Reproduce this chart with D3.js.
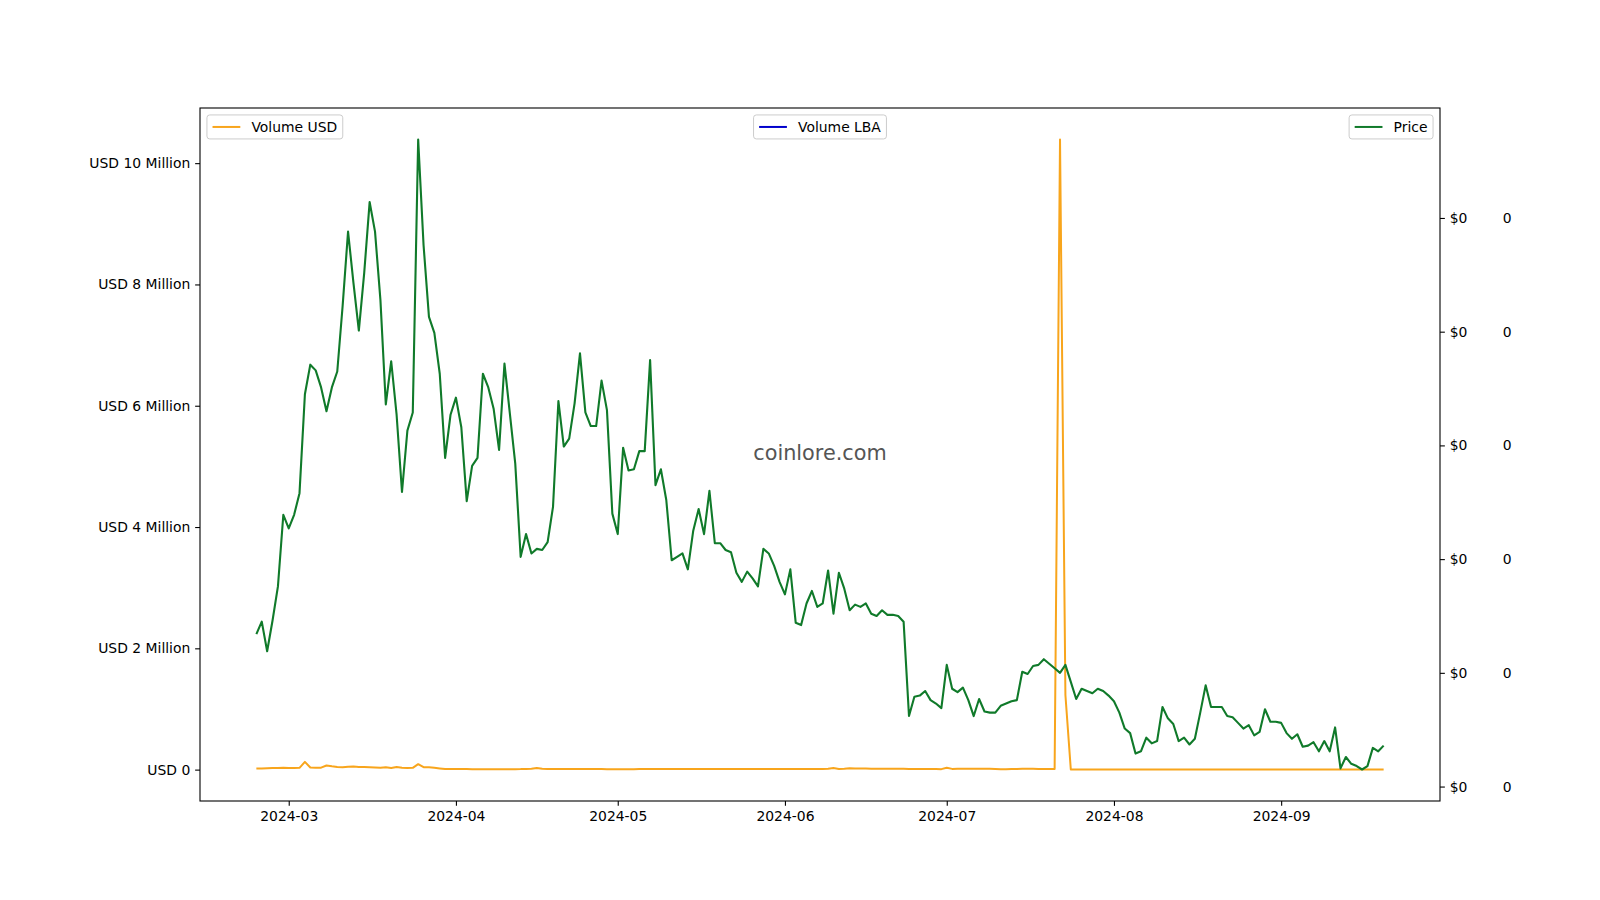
<!DOCTYPE html>
<html><head><meta charset="utf-8">
<script src="https://cdn.jsdelivr.net/npm/d3@7"></script>
<style>
body{margin:0;background:#fff}
svg{display:block;font-family:"DejaVu Sans",sans-serif}
</style>
</head><body>
<svg id="c" width="1600" height="900"></svg>
<script>
// ---- data ----
const startDate = "2024-02-24"; // one value per day from here
// price in units of 1e-5 USD
const price = [
3.34,3.45,3.19,3.46,3.76,4.39,4.27,4.39,4.58,5.45,
5.71,5.66,5.51,5.30,5.51,5.65,6.23,6.88,6.43,6.01,
6.52,7.14,6.88,6.28,5.36,5.74,5.27,4.59,5.13,5.29,
7.69,6.76,6.13,5.99,5.63,4.89,5.27,5.42,5.16,4.51,
4.82,4.89,5.63,5.51,5.32,4.96,5.72,5.28,4.84,4.02,
4.22,4.05,4.09,4.08,4.15,4.46,5.39,4.99,5.06,5.37,
5.81,5.29,5.17,5.17,5.57,5.31,4.40,4.22,4.98,4.78,
4.79,4.95,4.95,5.75,4.65,4.79,4.52,3.99,4.02,4.05,
3.91,4.25,4.44,4.22,4.60,4.14,4.14,4.08,4.06,3.88,
3.80,3.89,3.83,3.76,4.09,4.05,3.94,3.80,3.69,3.91,
3.44,3.42,3.61,3.72,3.58,3.61,3.90,3.52,3.88,3.74,
3.55,3.60,3.58,3.61,3.52,3.50,3.55,3.51,3.51,3.50,
3.45,2.62,2.79,2.80,2.84,2.76,2.73,2.69,3.07,2.86,
2.83,2.87,2.76,2.62,2.77,2.66,2.65,2.65,2.71,2.73,
2.75,2.76,3.01,2.99,3.06,3.07,3.12,3.08,3.04,3.00,
3.07,2.92,2.77,2.86,2.84,2.82,2.86,2.84,2.80,2.75,
2.65,2.51,2.47,2.29,2.31,2.43,2.38,2.40,2.70,2.60,
2.55,2.40,2.43,2.37,2.42,2.65,2.89,2.70,2.70,2.70,
2.62,2.61,2.56,2.51,2.54,2.45,2.48,2.68,2.57,2.57,
2.56,2.47,2.42,2.46,2.35,2.36,2.39,2.31,2.40,2.31,
2.52,2.16,2.26,2.20,2.18,2.15,2.18,2.34,2.31,2.36];
const PRICE_UNIT = 1e-5;

const volumeUSD = [
18000,20000,22000,25000,28000,30000,28000,25000,30000,127000,
35000,30000,32000,68000,55000,45000,40000,48000,50000,45000,
42000,40000,35000,30000,40000,25000,42000,30000,28000,30000,
90000,40000,40000,30000,20000,10000,9000,9000,8500,8500,
8000,8000,8000,7500,7500,7500,8000,7500,8000,9000,
12000,16000,28000,16000,12000,10000,10000,9500,9500,9000,
9000,9000,8500,8500,8500,8000,8000,7500,7500,8000,
8000,8500,8500,9000,9000,9500,9500,9500,9000,9000,
9000,9000,9500,9500,9500,9500,10000,10000,10000,9500,
9500,9500,9500,10000,10000,10000,10500,10500,10500,11000,
11000,11000,11000,11500,11500,12000,14000,25000,12000,16000,
22000,20000,18000,17000,16000,15000,15000,14000,14000,13000,
13000,12000,12000,11000,11000,10000,9000,8000,30000,12000,
15000,15000,16000,16000,15000,15000,14000,12000,8000,5000,
12000,12000,13000,13000,13000,12000,12000,12000,12000,10390000,
1230000,2000,2000,2000,2000,2000,2000,2000,2000,2000,
2000,2000,2000,2000,2000,2000,2000,2000,2000,2000,
2000,2000,2000,2000,2000,2000,2000,2000,2000,2000,
2000,2000,2000,2000,2000,2000,2000,2000,2000,2000,
2000,2000,2000,2000,2000,2000,2000,2000,2000,2000,
2000,2000,2000,2000,2000,2000,2000,2000,2000,2000];

const volumeTicks = [0,2e6,4e6,6e6,8e6,10e6];
const volumeTickLabels = ["USD 0","USD 2 Million","USD 4 Million","USD 6 Million","USD 8 Million","USD 10 Million"];
const priceTicks = [2,3,4,5,6,7];
const priceTickLabel = "$0";
const lbaTickLabel = "0";
const monthTicks = ["2024-03-01","2024-04-01","2024-05-01","2024-06-01","2024-07-01","2024-08-01","2024-09-01"];
const legendUSD = "Volume USD", legendLBA = "Volume LBA", legendPrice = "Price";
const watermark = "coinlore.com";

// ---- layout ----
const W = 1600, H = 900;
const L = 200, R = 1440, T = 108, B = 801;
const FS = 13.9, TICK = 4.86, PAD = 4.86;
const cUSD = "#f8a51c", cLBA = "#0000cc", cPrice = "#107a2a";

const svg = d3.select("#c");
const parse = d3.utcParse("%Y-%m-%d");
const t0 = parse(startDate);
const dates = price.map((_, i) => d3.utcDay.offset(t0, i));

function padded(ext){ const r = ext[1]-ext[0]; return [ext[0]-0.05*r, ext[1]+0.05*r]; }

const tExt = d3.extent(dates).map(d=>+d);
const x = d3.scaleUtc().domain(padded(tExt).map(v=>new Date(v))).range([L, R]);
const yV = d3.scaleLinear().domain(padded(d3.extent(volumeUSD))).range([B, T]);
const yP = d3.scaleLinear().domain(padded(d3.extent(price))).range([B, T]);

// clip
svg.append("defs").append("clipPath").attr("id","clip")
  .append("rect").attr("x",L).attr("y",T).attr("width",R-L).attr("height",B-T);

// watermark
svg.append("text").attr("x",(L+R)/2).attr("y",(T+B)/2 - 2)
  .attr("text-anchor","middle").attr("dominant-baseline","central")
  .attr("font-size","20.8px").attr("fill","#555").text(watermark);

// lines
const plot = svg.append("g").attr("clip-path","url(#clip)");
plot.append("path").datum(volumeUSD)
  .attr("fill","none").attr("stroke",cUSD).attr("stroke-width",2).attr("stroke-linejoin","round")
  .attr("d", d3.line().x((d,i)=>x(dates[i])).y(d=>yV(d)));
plot.append("path").datum(price)
  .attr("fill","none").attr("stroke",cPrice).attr("stroke-width",2.1).attr("stroke-linejoin","round")
  .attr("d", d3.line().x((d,i)=>x(dates[i])).y(d=>yP(d)));

// axes
function styleAxis(g){
  g.select(".domain").remove();
  g.selectAll(".tick line").attr("stroke","#000").attr("stroke-width",1.1);
  g.selectAll("text").attr("font-size",FS+"px").attr("fill","#000").attr("font-family","DejaVu Sans");
}
svg.append("g").attr("transform",`translate(0,${B})`)
  .call(d3.axisBottom(x).tickValues(monthTicks.map(parse)).tickFormat(d3.utcFormat("%Y-%m"))
    .tickSize(TICK).tickPadding(PAD)).call(styleAxis);
svg.append("g").attr("transform",`translate(${L},0)`)
  .call(d3.axisLeft(yV).tickValues(volumeTicks).tickFormat((d,i)=>volumeTickLabels[i])
    .tickSize(TICK).tickPadding(PAD)).call(styleAxis);
svg.append("g").attr("transform",`translate(${R},0)`)
  .call(d3.axisRight(yP).tickValues(priceTicks).tickFormat(()=>priceTickLabel)
    .tickSize(TICK).tickPadding(PAD)).call(styleAxis);
svg.append("g").attr("transform",`translate(${R+53},0)`)
  .call(d3.axisRight(yP).tickValues(priceTicks).tickFormat(()=>lbaTickLabel)
    .tickSize(0).tickPadding(2*PAD)).call(styleAxis);

// frame
svg.append("rect").attr("x",L).attr("y",T).attr("width",R-L).attr("height",B-T)
  .attr("fill","none").attr("stroke","#000").attr("stroke-width",1.1);

// legends
const BP = 0.4*FS, HL = 2*FS, HTP = 0.8*FS, BAP = 0.5*FS, LH = 24;
function legend(label, color, where){
  const g = svg.append("g");
  const box = g.append("rect");
  const txt = g.append("text").attr("font-size",FS+"px").attr("fill","#000").text(label);
  const tw = txt.node().getComputedTextLength();
  const bw = BP + HL + HTP + tw + BP;
  let bx;
  if (where==="left") bx = L + BAP;
  else if (where==="right") bx = R - BAP - bw;
  else bx = (L+R)/2 - bw/2;
  const by = T + BAP;
  box.attr("x",bx).attr("y",by).attr("width",bw).attr("height",LH).attr("rx",2.8)
    .attr("fill","#fff").attr("fill-opacity",0.8).attr("stroke","#cccccc").attr("stroke-width",1);
  const cy = by + LH/2;
  g.append("line").attr("x1",bx+BP).attr("x2",bx+BP+HL).attr("y1",cy).attr("y2",cy)
    .attr("stroke",color).attr("stroke-width",2);
  txt.attr("x",bx+BP+HL+HTP).attr("y",cy).attr("dy","0.36em");
}
legend(legendUSD, cUSD, "left");
legend(legendLBA, cLBA, "center");
legend(legendPrice, cPrice, "right");
</script>
</body></html>
